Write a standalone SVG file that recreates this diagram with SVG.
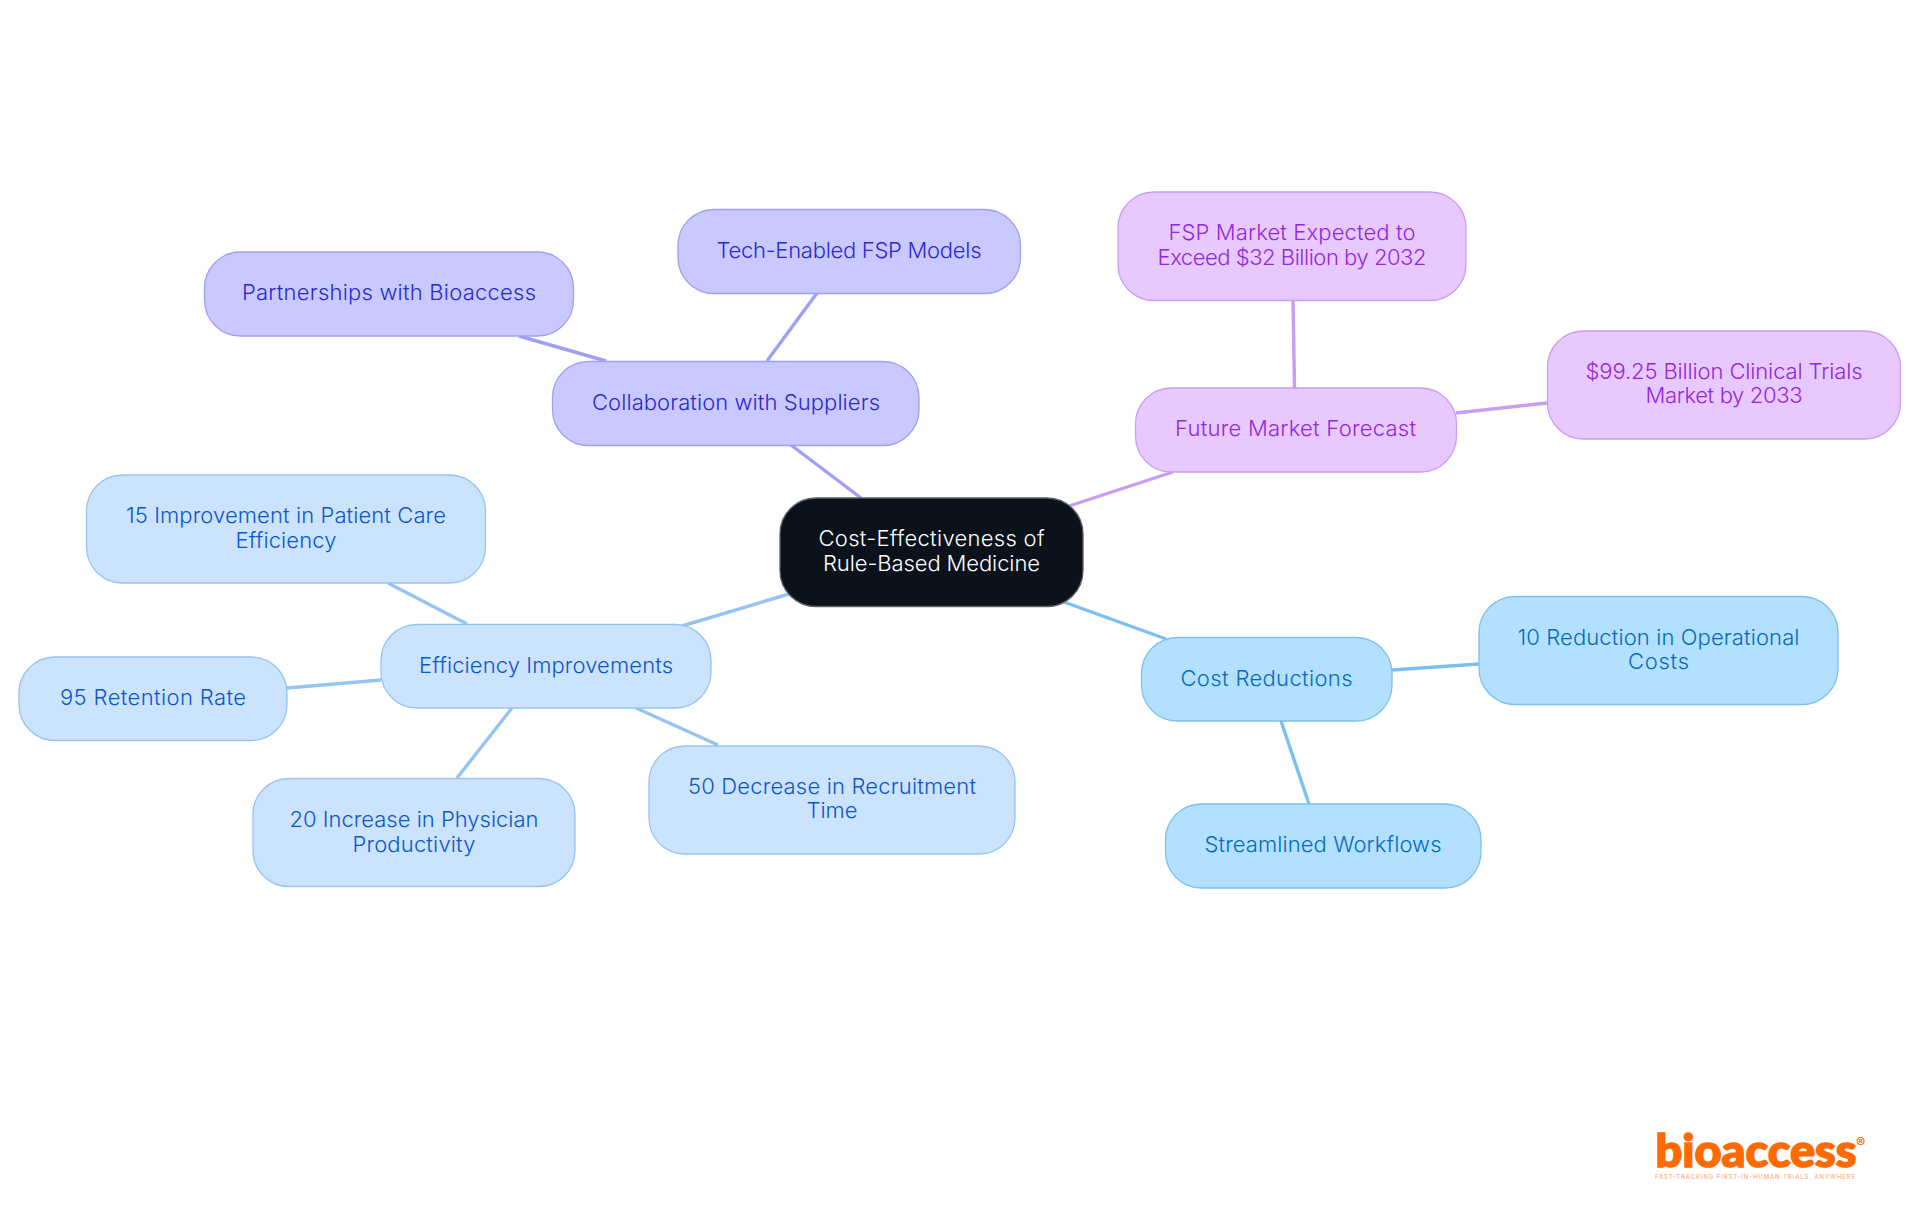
<svg xmlns="http://www.w3.org/2000/svg" width="1920" height="1215" viewBox="0 0 1920 1215">
<style>
text{font-family:"Inter","Noto Sans",sans-serif;font-weight:300;font-size:22px;text-anchor:middle}
.n rect{stroke-width:1.3}
.c line{stroke-width:3.4;fill:none}
.root rect{fill:#0b121b;stroke:#5a5f66}.root text{fill:#fff}
.v rect{fill:#c9c9ff;stroke:#a0a0f3}.v text{fill:#2a2acc}.vl{stroke:#a0a0f3}
.p rect{fill:#e8c9ff;stroke:#c99df2}.p text{fill:#9228dc}.pl{stroke:#c99df2}
.s rect{fill:#b4e0ff;stroke:#7cc0ef}.s text{fill:#046cbc}.sl{stroke:#7cc0ef}
.b rect{fill:#cce3fd;stroke:#95c4f3}.b text{fill:#0a58cc}.bl{stroke:#95c4f3}
.logo text{fill:#ff6a00}
</style>
<rect width="1920" height="1215" fill="#fff"/>
<g id="connectors" class="c">
<line class="vl" x1="791" y1="445" x2="861" y2="498"/>
<line class="vl" x1="767" y1="361" x2="817" y2="293"/>
<line class="vl" x1="606" y1="361" x2="519" y2="336"/>
<line class="pl" x1="1069" y1="506" x2="1173" y2="472"/>
<line class="pl" x1="1294.500" y1="388" x2="1293" y2="300"/>
<line class="pl" x1="1456" y1="413" x2="1547" y2="403"/>
<line class="sl" x1="1064" y1="602" x2="1166" y2="639"/>
<line class="sl" x1="1392" y1="670" x2="1479" y2="664"/>
<line class="sl" x1="1281" y1="721" x2="1309" y2="804"/>
<line class="bl" x1="789" y1="594" x2="682" y2="626"/>
<line class="bl" x1="467" y1="624" x2="388" y2="583"/>
<line class="bl" x1="381" y1="680" x2="287" y2="688"/>
<line class="bl" x1="512" y1="708" x2="457" y2="778"/>
<line class="bl" x1="636" y1="708" x2="718" y2="745"/>
</g>
<g id="root" class="n root"><rect x="780" y="498" width="303" height="108.500" rx="36"/><text x="931.5" y="545.5" textLength="226">Cost-Effectiveness of</text><text x="931.5" y="570.500" textLength="217">Rule-Based Medicine</text></g>
<g id="collab" class="n v"><rect x="552.500" y="361.500" width="366.500" height="84" rx="36"/><text x="736" y="410" textLength="288">Collaboration with Suppliers</text></g>
<g id="tech" class="n v"><rect x="678" y="209.500" width="342.500" height="84" rx="36"/><text x="849" y="258" textLength="265">Tech-Enabled FSP Models</text></g>
<g id="partner" class="n v"><rect x="204.500" y="252" width="369" height="84" rx="36"/><text x="389" y="300" textLength="294">Partnerships with Bioaccess</text></g>
<g id="future" class="n p"><rect x="1135.500" y="388" width="321" height="84" rx="36"/><text x="1295.500" y="436" textLength="241">Future Market Forecast</text></g>
<g id="fsp" class="n p"><rect x="1118" y="192" width="348" height="108.500" rx="36"/><text x="1292" y="240" textLength="247">FSP Market Expected to</text><text x="1292" y="264.500" textLength="269">Exceed $32 Billion by 2032</text></g>
<g id="clinical" class="n p"><rect x="1547.500" y="331" width="353" height="108" rx="36"/><text x="1724" y="379" textLength="277">$99.25 Billion Clinical Trials</text><text x="1724" y="403" textLength="157">Market by 2033</text></g>
<g id="cost" class="n s"><rect x="1141.500" y="637.500" width="250.500" height="83.500" rx="36"/><text x="1266.500" y="686" textLength="172">Cost Reductions</text></g>
<g id="ops" class="n s"><rect x="1479" y="596.500" width="359" height="108" rx="36"/><text x="1658.500" y="645" textLength="282">10 Reduction in Operational</text><text x="1658.500" y="669" textLength="61">Costs</text></g>
<g id="workflows" class="n s"><rect x="1165.500" y="804" width="315.500" height="84" rx="36"/><text x="1323" y="852" textLength="237">Streamlined Workflows</text></g>
<g id="eff" class="n b"><rect x="381" y="624.500" width="330" height="83.500" rx="36"/><text x="546" y="672.500" textLength="254">Efficiency Improvements</text></g>
<g id="care" class="n b"><rect x="86.500" y="475" width="399" height="108" rx="36"/><text x="286" y="523" textLength="320">15 Improvement in Patient Care</text><text x="286" y="547.500" textLength="101">Efficiency</text></g>
<g id="retention" class="n b"><rect x="19" y="657" width="268" height="83.500" rx="36"/><text x="153" y="705" textLength="186">95 Retention Rate</text></g>
<g id="physician" class="n b"><rect x="253" y="778.500" width="322" height="108" rx="36"/><text x="414" y="827" textLength="249">20 Increase in Physician</text><text x="414" y="851.500" textLength="123">Productivity</text></g>
<g id="recruit" class="n b"><rect x="649" y="746" width="366" height="108" rx="36"/><text x="832" y="794" textLength="288">50 Decrease in Recruitment</text><text x="832" y="818" textLength="51">Time</text></g>
<g id="logo" class="logo">
<text x="1655.500" y="1167" textLength="201" lengthAdjust="spacingAndGlyphs" style="font-family:'Lato',sans-serif;font-weight:900;font-size:46px;text-anchor:start;stroke:#ff6a00;stroke-width:1.6">bioaccess</text>
<text x="1856" y="1148" style="font-size:14px;font-weight:700;text-anchor:start">®</text>
<text x="1655" y="1179" textLength="200" style="font-size:6px;font-weight:400;text-anchor:start;opacity:.65">FAST-TRACKING FIRST-IN-HUMAN TRIALS, ANYWHERE</text>
</g>
</svg>
